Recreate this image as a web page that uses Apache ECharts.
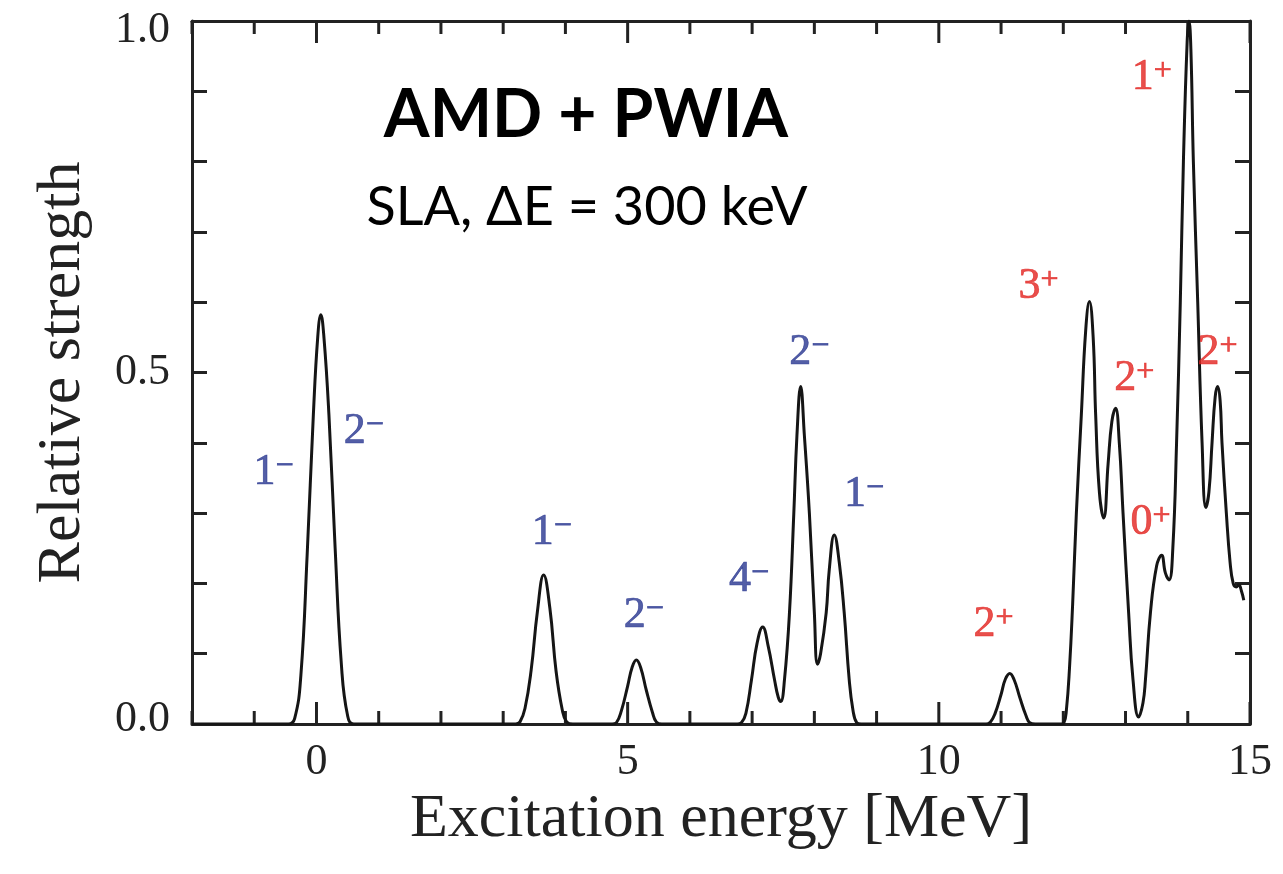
<!DOCTYPE html>
<html>
<head>
<meta charset="utf-8">
<script src="https://cdn.jsdelivr.net/npm/echarts@6/dist/echarts.min.js"></script>
<style>
  html, body { margin: 0; background: #fff; }
  #main { width: 1283px; height: 874px; }
</style>
</head>
<body>
<div id="main"></div>
<script>
// spectrum (MeV, relative strength)
var energy = [
  -2.0, -0.45, -0.35, -0.25, -0.15, -0.05, 0.02, 0.07, 0.12, 0.2, 0.3, 0.4, 0.5, 0.6,
  3.2, 3.27, 3.35, 3.45, 3.55, 3.65, 3.75, 3.85, 3.95, 4.02, 4.12,
  4.75, 4.82, 4.9, 5.0, 5.07, 5.14, 5.21, 5.3, 5.4, 5.46, 5.55,
  6.76, 6.83, 6.9, 6.99, 7.08, 7.17, 7.26, 7.36, 7.42, 7.46, 7.52, 7.6, 7.67, 7.72, 7.78,
  7.84, 7.92, 8.0, 8.05, 8.1, 8.19, 8.24, 8.32, 8.4, 8.48, 8.56, 8.62, 8.68, 8.75,
  10.76, 10.83, 10.9, 11.0, 11.07, 11.14, 11.21, 11.3, 11.4, 11.46, 11.55,
  11.95, 12.01, 12.05, 12.1, 12.15, 12.21, 12.29, 12.36, 12.42, 12.48, 12.52, 12.58, 12.65,
  12.72, 12.78, 12.84, 12.9, 12.96, 13.05, 13.12, 13.21, 13.28, 13.32, 13.4, 13.5, 13.58,
  13.64, 13.7, 13.76, 13.82, 13.88, 13.93, 13.99, 14.02, 14.05, 14.09, 14.16, 14.23, 14.29,
  14.34, 14.39, 14.44, 14.48, 14.52, 14.55, 14.62, 14.68, 14.73, 14.78, 14.82, 14.86, 14.9
];
var strength = [
  0, 0, 0.008, 0.07, 0.24, 0.44, 0.55, 0.582, 0.55, 0.44, 0.25, 0.085, 0.012, 0,
  0, 0.003, 0.022, 0.077, 0.16, 0.212, 0.165, 0.075, 0.02, 0.003, 0,
  0, 0.002, 0.019, 0.054, 0.08, 0.091, 0.08, 0.048, 0.016, 0.003, 0,
  0, 0.002, 0.015, 0.063, 0.115, 0.138, 0.11, 0.063, 0.038, 0.032, 0.063, 0.158, 0.30, 0.41, 0.48,
  0.41, 0.30, 0.158, 0.085, 0.10, 0.158, 0.22, 0.269, 0.23, 0.158, 0.063, 0.02, 0.002, 0,
  0, 0.003, 0.014, 0.042, 0.064, 0.072, 0.063, 0.038, 0.012, 0.002, 0,
  0, 0.002, 0.02, 0.08, 0.17, 0.30, 0.44, 0.56, 0.601, 0.55, 0.44, 0.33, 0.293,
  0.37, 0.43, 0.449, 0.40, 0.30, 0.158, 0.063, 0.01, 0.03, 0.063, 0.158, 0.225, 0.24,
  0.215, 0.205, 0.25, 0.40, 0.60, 0.80, 0.97, 1.0, 0.96, 0.80, 0.60, 0.40, 0.308,
  0.33, 0.40, 0.465, 0.48, 0.46, 0.40, 0.30, 0.23, 0.20, 0.195, 0.198, 0.19, 0.176
];

// spin-parity labels: anchor in data coords
var labelX    = [-0.69, 0.76, 3.78, 5.26, 6.95, 7.92, 8.80, 10.88, 11.60, 13.14, 13.40, 13.42, 14.48];
var labelY    = [0.358, 0.416, 0.272, 0.154, 0.206, 0.528, 0.327, 0.142, 0.622, 0.491, 0.287, 0.92, 0.529];
var labelSpin = ['1', '2', '1', '2', '4', '2', '1', '2', '3', '2', '0', '1', '2'];
var labelSign = ['−', '−', '−', '−', '−', '−', '−', '+', '+', '+', '+', '+', '+'];

var xTicks = [-2, -1, 0, 1, 2, 3, 4, 5, 6, 7, 8, 9, 10, 11, 12, 13, 14, 15];
var xMajor = [0, 5, 10, 15];
var yMajor = ['0.0', '0.5', '1.0'];

var curve = energy.map(function (e, i) { return [e, strength[i]]; });
var negData = [], posData = [];
labelX.forEach(function (x, i) {
  var item = { value: [x, labelY[i]], spin: labelSpin[i], sign: labelSign[i] };
  (labelSign[i] === '+' ? posData : negData).push(item);
});

var serif = 'Liberation Serif';
var axisColor = '#222';

function spinLabel(color) {
  var thick = { textBorderColor: color, textBorderWidth: 0.7 };
  return {
    show: true,
    position: 'inside',
    formatter: function (p) { return '{d|' + p.data.spin + '}{s|' + p.data.sign + '}'; },
    rich: {
      d: Object.assign({ fontFamily: serif, fontSize: 44, color: color, lineHeight: 44 }, thick),
      s: Object.assign({ fontFamily: serif, fontSize: 32, color: color, verticalAlign: 'top', lineHeight: 36 }, thick)
    }
  };
}

// x ticks drawn on bottom and top edges, pointing inwards
function renderXTick(params, api) {
  var x = api.value(0);
  var lo = api.coord([x, 0]);
  var hi = api.coord([x, 1]);
  var len = xMajor.indexOf(x) >= 0 ? 22 : 13;
  var style = { stroke: axisColor, lineWidth: 3 };
  return {
    type: 'group',
    children: [
      { type: 'line', shape: { x1: lo[0], y1: lo[1], x2: lo[0], y2: lo[1] - len }, style: style },
      { type: 'line', shape: { x1: hi[0], y1: hi[1], x2: hi[0], y2: hi[1] + len }, style: style }
    ]
  };
}

function yAx(pos, labels) {
  var a = {
    type: 'value', position: pos, min: 0, max: 1, interval: 0.1,
    axisLine: { show: true, onZero: false, lineStyle: { color: axisColor, width: 3 } },
    axisTick: { show: true, inside: true, length: 15, lineStyle: { color: axisColor, width: 3 } },
    axisLabel: { show: false },
    splitLine: { show: false }
  };
  if (labels) {
    a.axisLabel = {
      show: true, margin: 22, fontFamily: serif, fontSize: 44, color: axisColor,
      formatter: function (v) {
        var s = (Math.round(v * 10) / 10).toFixed(1);
        if (yMajor.indexOf(s) < 0) return '';
        return s === '1.0' ? '{top|' + s + '}' : s === '0.0' ? '{bot|' + s + '}' : s;
      },
      rich: {
        top: { fontFamily: serif, fontSize: 44, color: axisColor, padding: [18, 0, 0, 0] },
        bot: { fontFamily: serif, fontSize: 44, color: axisColor, padding: [0, 0, 10, 0] }
      }
    };
    a.name = 'Relative strength';
    a.nameLocation = 'middle';
    a.nameGap = 98;
    a.nameTextStyle = { fontFamily: serif, fontSize: 62, color: axisColor };
  }
  return a;
}

var chart = echarts.init(document.getElementById('main'));
var option = {
  backgroundColor: '#fff',
  animation: false,
  title: [
    {
      text: 'AMD + PWIA', left: 581, top: 78, textAlign: 'center',
      textStyle: { fontFamily: 'Lato', fontWeight: 'bold', fontSize: 66, color: '#000' }
    },
    {
      text: 'SLA, ΔE = 300 keV', left: 582, top: 176, textAlign: 'center',
      textStyle: { fontFamily: 'Lato', fontWeight: 'normal', fontSize: 54, color: '#000' }
    }
  ],
  grid: { left: 192, right: 33, top: 21, bottom: 150 },
  xAxis: [
    {
      type: 'value', position: 'bottom', min: -2, max: 15, interval: 1,
      axisLine: { show: true, onZero: false, lineStyle: { color: axisColor, width: 3 } },
      axisTick: { show: false },
      splitLine: { show: false },
      axisLabel: {
        margin: 16, fontFamily: serif, fontSize: 44, color: axisColor,
        formatter: function (v) { return xMajor.indexOf(v) >= 0 ? String(v) : ''; }
      },
      name: 'Excitation energy [MeV]', nameLocation: 'middle', nameGap: 62,
      nameTextStyle: { fontFamily: serif, fontSize: 62, color: axisColor, verticalAlign: 'top' }
    },
    {
      type: 'value', position: 'top', min: -2, max: 15, interval: 1,
      axisLine: { show: true, onZero: false, lineStyle: { color: axisColor, width: 3 } },
      axisTick: { show: false }, axisLabel: { show: false }, splitLine: { show: false }
    }
  ],
  yAxis: [yAx('left', true), yAx('right', false)],
  series: [
    {
      type: 'custom', data: xTicks.map(function (t) { return [t]; }),
      xAxisIndex: 0, yAxisIndex: 0, renderItem: renderXTick, silent: true, z: 1
    },
    {
      type: 'line', data: curve, xAxisIndex: 0, yAxisIndex: 0,
      showSymbol: false, smooth: 0.45,
      lineStyle: { color: '#151515', width: 3 }, z: 3
    },
    {
      type: 'scatter', data: negData, symbolSize: 0, xAxisIndex: 0, yAxisIndex: 0,
      label: spinLabel('#283690'), z: 4
    },
    {
      type: 'scatter', data: posData, symbolSize: 0, xAxisIndex: 0, yAxisIndex: 0,
      label: spinLabel('#e2231f'), z: 4
    }
  ]
};
chart.setOption(option);
</script>
</body>
</html>
